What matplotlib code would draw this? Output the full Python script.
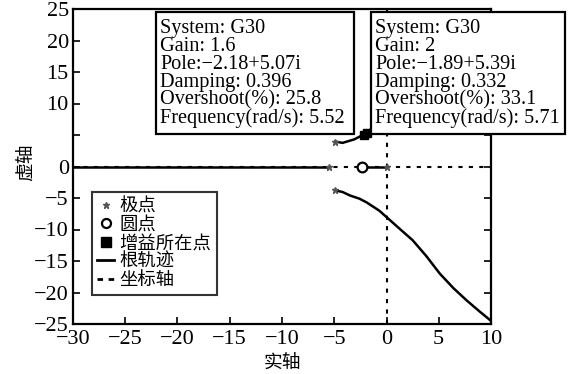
import matplotlib
matplotlib.use("Agg")
import matplotlib.pyplot as plt
from matplotlib.lines import Line2D
from matplotlib.patches import Rectangle

# ---- data ----
real_left_x = [-30, -5.5]
real_left_y = [0, 0]
zero_seg_x = [-2.3, 0]
zero_seg_y = [0, 0]
upper_x = [-4.9, -4.2, -3.1, -2.18, -1.89, -0.7, 0.05, 2.5, 5.1, 7.7, 10]
upper_y = [3.95, 3.75, 4.3, 5.07, 5.39, 7.0, 8.1, 11.7, 17.0, 21.3, 24.5]
lower_x = [-4.9, -4.2, -3.5, -2.6, -1.9, -0.7, 0.05, 1.2, 2.5, 3.8, 5.1, 6.4, 7.7, 8.9, 10]
lower_y = [-3.8, -4.05, -4.6, -5.1, -5.7, -7.0, -8.1, -9.8, -11.7, -14.2, -17.0, -19.3, -21.3, -23.0, -24.5]
poles_x = [0, -5.5, -4.9, -4.9]
poles_y = [0, 0, 3.95, -3.8]
zeros_x = [-2.3]
zeros_y = [0]
gain_x = [-2.18, -1.89]
gain_y = [5.07, 5.39]

xticks = [-30, -25, -20, -15, -10, -5, 0, 5, 10]
xtick_labels = ["\u221230", "\u221225", "\u221220", "\u221215", "\u221210", "\u22125", "0", "5", "10"]
yticks = [-25, -20, -15, -10, -5, 0, 5, 10, 15, 20, 25]
ytick_labels = ["\u221225", "\u221220", "\u221215", "\u221210", "\u22125", "0", "", "10", "15", "20", "25"]

legend_labels = ["极点", "圆点", "增益所在点", "根轨迹", "坐标轴"]

box1_lines = ["System: G30", "Gain: 1.6", "Pole:\u22122.18+5.07i", "Damping: 0.396",
              "Overshoot(%): 25.8", "Frequency(rad/s): 5.52"]
box2_lines = ["System: G30", "Gain: 2", "Pole:\u22121.89+5.39i", "Damping: 0.332",
              "Overshoot(%): 33.1", "Frequency(rad/s): 5.71"]

serif = ["Liberation Serif", "DejaVu Serif"]
cjk = ["Noto Sans CJK SC", "DejaVu Sans"]

W, H = 571, 374
fig = plt.figure(figsize=(W / 100, H / 100), dpi=100)
ax = fig.add_axes([73 / W, 1 - 324 / H, (491 - 73) / W, (324 - 9) / H])

lw = 1.8
# coordinate axes (dashed)
ax.plot([-30, 10], [0, 0], color="black", lw=1.5, ls=(0, (2, 3)), zorder=1)
ax.plot([0, 0], [-25, 25], color="black", lw=1.5, ls=(0, (2, 3)), zorder=1)
# root locus branches
ax.plot(real_left_x, real_left_y, color="black", lw=lw, zorder=2)
ax.plot(zero_seg_x, zero_seg_y, color="black", lw=lw, zorder=2)
ax.plot(upper_x, upper_y, color="black", lw=lw, zorder=2)
ax.plot(lower_x, lower_y, color="black", lw=lw, zorder=2)
# poles, zeros, gain points
ax.plot(poles_x, poles_y, ls="none", marker="*", ms=4.5, color="#555555", zorder=3)
ax.plot(zeros_x, zeros_y, ls="none", marker="o", ms=7, mfc="white", mec="black", mew=1.6, zorder=3)
ax.plot(gain_x, gain_y, ls="none", marker="s", ms=6, color="black", zorder=3)

ax.set_xlim(-30, 10)
ax.set_ylim(-25, 25)
ax.set_xticks(xticks)
ax.set_xticklabels(xtick_labels, fontfamily=serif, fontsize=16)
ax.set_yticks(yticks)
ax.set_yticklabels(ytick_labels, fontfamily=serif, fontsize=16)
ax.tick_params(direction="in", length=5, width=1.2, right=True)
ax.tick_params(axis="x", pad=4)
ax.tick_params(axis="y", pad=3)
for s in ax.spines.values():
    s.set_linewidth(1.6)

# legend
handles = [
    Line2D([], [], ls="none", marker="*", ms=4.5, color="#555555"),
    Line2D([], [], ls="none", marker="o", ms=6.5, mfc="white", mec="black", mew=1.6),
    Line2D([], [], ls="none", marker="s", ms=7, color="black"),
    Line2D([], [], color="black", lw=2),
    Line2D([], [], color="black", lw=2, ls=(0, (2, 2))),
]
leg = ax.legend(handles, legend_labels, loc="upper left", bbox_to_anchor=(0.045, 0.42),
                prop={"family": cjk, "size": 13.2}, frameon=True, fancybox=False,
                edgecolor="black", handlelength=0.9, handletextpad=0.3,
                labelspacing=0.03, borderpad=0.3, borderaxespad=0)
leg.get_frame().set_linewidth(1.5)
leg.set_zorder(5)

# annotation boxes (data tips)
def data_tip(x0, y0, x1, y1, lines):
    fig.patches.append(Rectangle((x0 / W, 1 - y1 / H), (x1 - x0) / W, (y1 - y0) / H,
                                 transform=fig.transFigure, fc="white", ec="black",
                                 lw=1.6, zorder=10))
    fig.text((x0 + 4) / W, 1 - (y0 + 7) / H, "\n".join(lines), ha="left", va="top",
             fontfamily=serif, fontsize=14.6, linespacing=0.92, zorder=11)

data_tip(156, 12, 354, 134, box1_lines)
data_tip(371, 12, 565, 134, box2_lines)

# axis labels
fig.text(282 / W, 1 - 362 / H, "实轴", ha="center", va="center", fontfamily=cjk, fontsize=13.5)
fig.text(25 / W, 1 - 162 / H, "虚轴", ha="center", va="center", rotation=90, fontfamily=cjk, fontsize=13.5)

fig.savefig("out.png", dpi=100)
